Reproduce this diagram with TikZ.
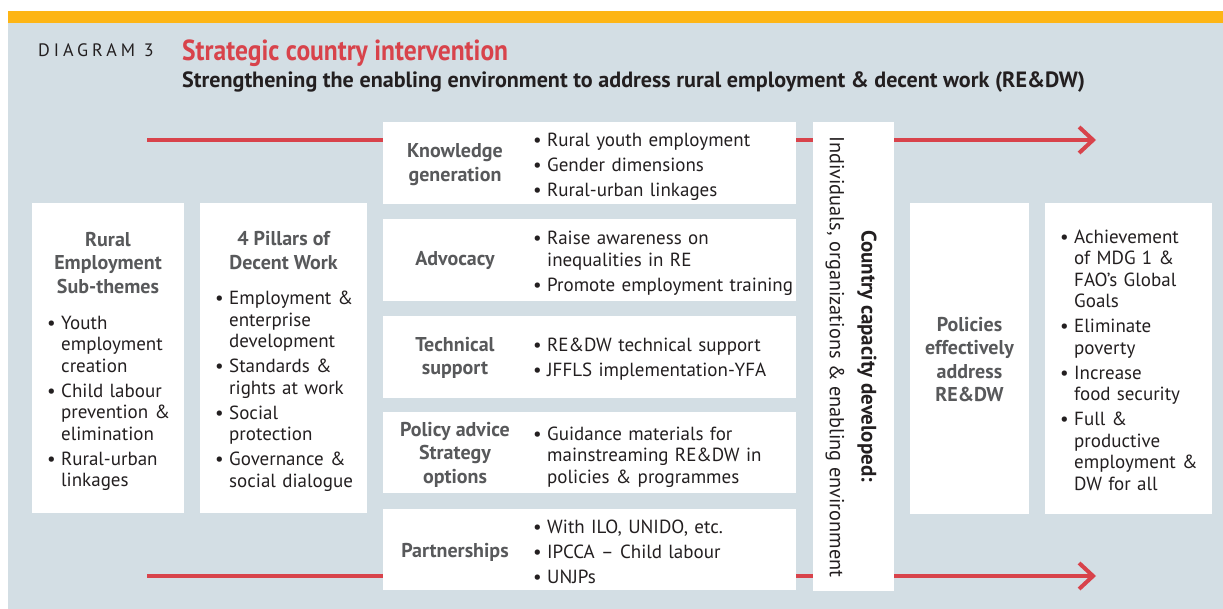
\documentclass[tikz,border=0pt]{standalone}
\usepackage{fontspec}
\setmainfont{PT Sans}
\newfontfamily\narrowfont[FakeStretch=0.88]{PT Sans}
\usetikzlibrary{arrows.meta, positioning}
\definecolor{bgblue}{HTML}{D3DEE4}
\definecolor{barorange}{HTML}{FDB515}
\definecolor{arrowred}{HTML}{D8434B}
\definecolor{headgray}{HTML}{58595B}
\definecolor{txtdark}{HTML}{231F20}
\hyphenpenalty=10000
\newcommand{\itm}[1]{\noindent\hangindent=14pt\hangafter=1\makebox[14pt][l]{\textbullet}#1\par}
\newcommand{\brk}{\hfil\break}

\begin{document}
\begin{tikzpicture}[x=1pt, y=-1pt,
    box/.style={fill=white, inner sep=0pt},
    head/.style={font=\bfseries\fontsize{20}{23.5}\selectfont, text=headgray, align=center, inner sep=0pt},
    list/.style={font=\fontsize{19}{21.5}\selectfont\setlength\parskip{3.5pt}, text=txtdark, align=left, anchor=west, inner sep=0pt},
    flow/.style={draw=arrowred, line width=4pt, -{Straight Barb[length=14pt, width=26pt]}}]
    \fill[white] (0,0) rectangle (1223,609);
    \fill[bgblue] (8,22) rectangle (1223,609);
    \fill[barorange] (8,11) rectangle (1223,23);

    \node[anchor=west, inner sep=0pt, text=txtdark, font=\fontsize{18}{20}\selectfont\addfontfeatures{LetterSpace=22}] (diag) at (38,50) {DIAGRAM 3};
    \node[anchor=west, inner sep=0pt, text=arrowred, font=\narrowfont\bfseries\fontsize{29}{32}\selectfont] (title) at (182,53) {Strategic country intervention};
    \node[anchor=west, inner sep=0pt, text=txtdark, font=\bfseries\fontsize{22.1}{24}\selectfont] (subtitle) at (182,82) {Strengthening the enabling environment to address rural employment \& decent work (RE\&DW)};

    \coordinate (topstart) at (147,140);
    \coordinate (topend) at (1096,140);
    \coordinate (botstart) at (147,576);
    \coordinate (botend) at (1096,576);
    \draw[flow] (topstart) -- (topend);
    \draw[flow] (botstart) -- (botend);

    \node[box, minimum width=152pt, minimum height=310pt] (rural) at (108,358) {};
    \node[head] (ruralhead) at (108,263) {Rural\\Employment\\Sub-themes};
    \node[list, text width=135pt] (rurallist) at (47,403.5) {\itm{Youth\brk employment\brk creation}\itm{Child labour\brk prevention \&\brk elimination}\itm{Rural-urban\brk linkages}};

    \node[box, minimum width=167pt, minimum height=310pt] (pillars) at (283.5,358) {};
    \node[head] (pillarshead) at (283.5,250.5) {4 Pillars of\\Decent Work};
    \node[list, text width=150pt] (pillarslist) at (215,391.5) {\itm{Employment \&\brk enterprise\brk development}\itm{Standards \&\brk rights at work}\itm{Social\brk protection}\itm{Governance \&\brk social dialogue}};

    \node[box, minimum width=413pt, minimum height=82pt] (knowledge) at (589.5,163) {};
    \node[head] (knowledgehead) at (455,164.5) {Knowledge\\generation};
    \node[list, text width=280pt] (knowledgelist) at (533,167) {\itm{Rural youth employment}\itm{Gender dimensions}\itm{Rural-urban linkages}};

    \node[box, minimum width=413pt, minimum height=82pt] (advocacy) at (589.5,260) {};
    \node[head] (advocacyhead) at (455,261) {Advocacy};
    \node[list, text width=280pt] (advocacylist) at (533,263.5) {\itm{Raise awareness on\brk inequalities in RE}\itm{Promote employment training}};

    \node[box, minimum width=413pt, minimum height=82pt] (technical) at (589.5,357) {};
    \node[head] (technicalhead) at (455,358) {Technical\\support};
    \node[list, text width=280pt] (technicallist) at (533,359.5) {\itm{RE\&DW technical support}\itm{JFFLS implementation-YFA}};

    \node[box, minimum width=413pt, minimum height=81pt] (policy) at (589.5,452.5) {};
    \node[head] (policyhead) at (455,454.5) {Policy advice\\Strategy\\options};
    \node[list, text width=280pt] (policylist) at (533,457) {\itm{Guidance materials for\brk mainstreaming RE\&DW in\brk policies \& programmes}};

    \node[box, minimum width=413pt, minimum height=81pt] (partner) at (589.5,549.5) {};
    \node[head] (partnerhead) at (455,552) {Partnerships};
    \node[list, text width=280pt] (partnerlist) at (533,552) {\itm{With ILO, UNIDO, etc.}\itm{IPCCA -- Child labour}\itm{UNJPs}};

    \node[box, minimum width=81pt, minimum height=469pt] (capacity) at (853.5,356.5) {};
    \node[head, rotate=-90, text=txtdark, font=\bfseries\fontsize{21}{24}\selectfont] (capacityhead) at (867,356) {Country capacity developed:};
    \node[list, anchor=center, rotate=-90, font=\fontsize{20.3}{24}\selectfont] (capacitytext) at (835,357) {Individuals, organizations \& enabling environment};

    \node[box, minimum width=119pt, minimum height=311pt] (policies) at (969.5,358.5) {};
    \node[head] (policieshead) at (969.5,359.5) {Policies\\effectively\\address\\RE\&DW};

    \node[box, minimum width=167pt, minimum height=311pt] (goals) at (1128.5,358.5) {};
    \node[list, text width=150pt] (goalslist) at (1060,360) {\itm{Achievement\brk of MDG 1 \&\brk FAO's Global\brk Goals}\itm{Eliminate\brk poverty}\itm{Increase\brk food security}\itm{Full \&\brk productive\brk employment \&\brk DW for all}};
\end{tikzpicture}
\end{document}
